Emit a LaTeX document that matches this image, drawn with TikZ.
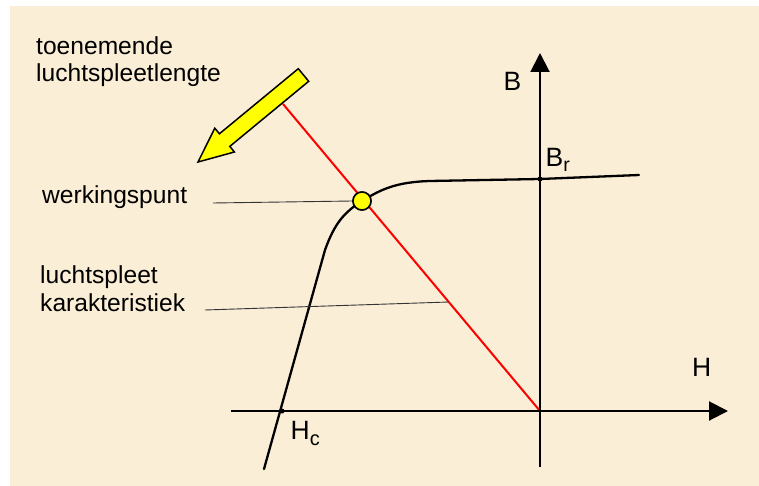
\documentclass[tikz,border=0pt]{standalone}
\usepackage{fontspec}
\setmainfont{Liberation Sans}
\usetikzlibrary{arrows.meta}
\definecolor{parch}{RGB}{250,238,214}
\definecolor{ayellow}{RGB}{255,255,0}
\definecolor{ared}{RGB}{255,0,0}
\begin{document}
\begin{tikzpicture}[x=1pt,y=-1pt,
  lbl/.style={inner sep=0pt,anchor=base west,align=left,font=\fontsize{24.6}{27.8}\selectfont},
  axlbl/.style={inner sep=0pt,anchor=base west,font=\fontsize{26.5}{30}\selectfont},
  axis/.style={line width=2pt,-{Triangle[length=19pt,width=19pt]}},
  curve/.style={line width=2.3pt,line join=round,line cap=round},
  leader/.style={line width=0.9pt,black!80},
  gapline/.style={line width=2pt,ared},
  dot/.style={circle,fill=black,inner sep=0pt,minimum size=5pt},
  wpt/.style={circle,draw=black,line width=1.5pt,fill=ayellow,inner sep=0pt,minimum size=18pt}]
\useasboundingbox (0,0) rectangle (759,486);
\fill[parch] (10,6) rectangle (759,486);
% coordinates
\coordinate (O) at (540,411);
\coordinate (Hs) at (231,411);
\coordinate (He) at (728,411);
\coordinate (Bs) at (540,467);
\coordinate (Be) at (540,53);
\coordinate (Rt) at (283,104);
\coordinate (Cb) at (264,469);
\coordinate (Cm) at (325,250);
\coordinate (Cr) at (639,175);
% red air-gap line
\draw[gapline] (O) -- (Rt);
% axes
\draw[axis] (Hs) -- (He);
\draw[axis] (Bs) -- (Be);
% B-H curve
\node[wpt] (W) at (362,201) {};
\draw[curve] (Cb) -- (Cm) .. controls (335,222) and (345,212) .. (W.center)
  .. controls (380,190) and (395,182) .. (430,181) -- (540,179) -- (Cr);
\node[wpt] at (W) {};
% points
\node[dot] (Br) at (540,179) {};
\node[dot] (Hc) at (282,411) {};
% yellow block arrow
\filldraw[fill=ayellow,draw=black,line width=1.5pt,line join=miter]
  (298.3,68.7) -- (308.7,81.3) -- (229.8,146.4) -- (234.4,152.0) -- (198,162)
  -- (214.8,128.2) -- (219.4,133.8) -- cycle;
% labels
\node[lbl] (t1) at (36,81.9) {toenemende\\luchtspleetlengte};
\node[lbl] (t2) at (42,204) {werkingspunt};
\node[lbl] (t3) at (40,311.7) {luchtspleet\\karakteristiek};
\node[axlbl] (lB) at (503.5,91) {B};
\node[axlbl] (lH) at (692,376) {H};
\node[axlbl] (lBr) at (545.5,167) {B\raisebox{-5pt}{\fontsize{19.5}{22}\selectfont r}};
\node[axlbl] (lHc) at (290.5,439) {H\raisebox{-6pt}{\fontsize{20}{22}\selectfont c}};
% leaders
\coordinate (L1) at (213,203);
\coordinate (L2) at (205,310);
\coordinate (L2e) at (448.8,302);
\draw[leader] (L1) -- (W.west);
\draw[leader] (L2) -- (L2e);
\end{tikzpicture}
\end{document}
